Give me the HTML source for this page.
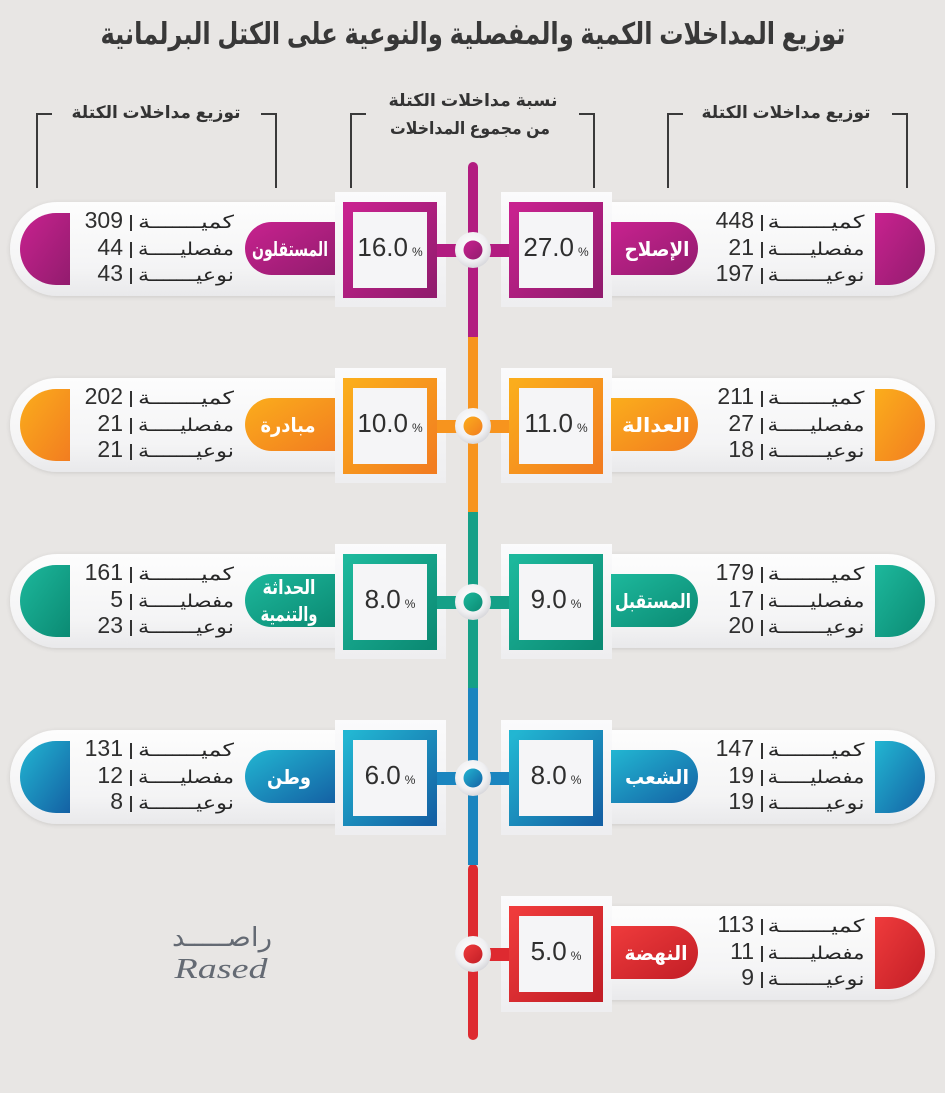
<!DOCTYPE html>
<html><head><meta charset="utf-8"><style>
html,body{margin:0;padding:0;background:#e8e6e4;}
svg{display:block;}
.ar{font-family:"Liberation Sans","DejaVu Sans",sans-serif;}
.num{font-family:"Liberation Sans",sans-serif;font-size:23px;fill:#2f2f2f;}
.lab{font-family:"DejaVu Sans",sans-serif;font-size:18px;fill:#262626;font-weight:500;}
.pct{font-family:"Liberation Sans",sans-serif;font-size:26px;fill:#2f2f2f;}
.pct tspan{font-size:12px;}
.nm{font-family:"DejaVu Sans",sans-serif;font-size:20px;font-weight:bold;fill:#fff;}
.bar{stroke:#333;stroke-width:2;}
</style></head><body>
<svg width="945" height="1093" viewBox="0 0 945 1093" xmlns="http://www.w3.org/2000/svg">
<defs>
<linearGradient id="pill" x1="0" y1="0" x2="0" y2="1"><stop offset="0" stop-color="#fdfdfd"/><stop offset="0.7" stop-color="#f4f4f5"/><stop offset="1" stop-color="#e9e9eb"/></linearGradient>
<linearGradient id="bd" x1="0" y1="0" x2="0" y2="1"><stop offset="0" stop-color="#fbfbfc"/><stop offset="1" stop-color="#eeeef0"/></linearGradient>
<linearGradient id="gm" x1="0" y1="0" x2="1" y2="1"><stop offset="0" stop-color="#c8228f"/><stop offset="1" stop-color="#921c6e"/></linearGradient>
<linearGradient id="go" x1="0" y1="0" x2="1" y2="1"><stop offset="0" stop-color="#fbad1c"/><stop offset="1" stop-color="#f27d20"/></linearGradient>
<linearGradient id="gt" x1="0" y1="0" x2="1" y2="1"><stop offset="0" stop-color="#1db89c"/><stop offset="1" stop-color="#0b8a73"/></linearGradient>
<linearGradient id="gb" x1="0" y1="0" x2="1" y2="1"><stop offset="0" stop-color="#22b6d2"/><stop offset="1" stop-color="#1461a4"/></linearGradient>
<linearGradient id="gr" x1="0" y1="0" x2="1" y2="1"><stop offset="0" stop-color="#ef3b3c"/><stop offset="1" stop-color="#c21e26"/></linearGradient>
<radialGradient id="node" cx="0.45" cy="0.4" r="0.6"><stop offset="0" stop-color="#ffffff"/><stop offset="0.7" stop-color="#f0f0f2"/><stop offset="1" stop-color="#d8d8dc"/></radialGradient>
<filter id="sh" x="-10%" y="-20%" width="120%" height="140%"><feDropShadow dx="0" dy="1" stdDeviation="2" flood-color="#000" flood-opacity="0.12"/></filter>
</defs>

<!-- Title -->
<text class="ar" x="473" y="44" text-anchor="middle" font-size="30" font-weight="bold" fill="#383838" textLength="745" lengthAdjust="spacingAndGlyphs">توزيع المداخلات الكمية والمفصلية والنوعية على الكتل البرلمانية</text>

<!-- Header labels -->
<text class="ar" x="156" y="118" text-anchor="middle" font-size="17" font-weight="bold" fill="#333" textLength="169" lengthAdjust="spacingAndGlyphs">توزيع مداخلات الكتلة</text>
<text class="ar" x="786" y="118" text-anchor="middle" font-size="17" font-weight="bold" fill="#333" textLength="169" lengthAdjust="spacingAndGlyphs">توزيع مداخلات الكتلة</text>
<text class="ar" x="473" y="106" text-anchor="middle" font-size="17" font-weight="bold" fill="#333" textLength="169" lengthAdjust="spacingAndGlyphs">نسبة مداخلات الكتلة</text>
<text class="ar" x="470" y="134" text-anchor="middle" font-size="17" font-weight="bold" fill="#333" textLength="160" lengthAdjust="spacingAndGlyphs">من مجموع المداخلات</text>

<!-- Brackets -->
<g fill="none" stroke="#3a3a3a" stroke-width="2">
<polyline points="52,114 37,114 37,188"/><polyline points="261,114 276,114 276,188"/>
<polyline points="366,114 351,114 351,188"/><polyline points="579,114 594,114 594,188"/>
<polyline points="683,114 668,114 668,188"/><polyline points="892,114 907,114 907,188"/>
</g>

<!-- Spine -->
<rect x="468" y="162" width="10" height="180" rx="5" fill="#b21c80"/>
<rect x="468" y="337" width="10" height="176" fill="#f7941e"/>
<rect x="468" y="512" width="10" height="177" fill="#15a087"/>
<rect x="468" y="864" width="10" height="176" rx="5" fill="#de2a30"/>
<rect x="468" y="688" width="10" height="177" fill="#1a85bf"/>

<!-- ROW 1 (cy=250) -->
<g>
<rect x="560" y="202" width="375" height="94" rx="47" fill="url(#pill)" filter="url(#sh)"/>
<rect x="10" y="202" width="375" height="94" rx="47" fill="url(#pill)" filter="url(#sh)"/>
<rect x="501" y="192" width="111" height="115" fill="url(#bd)"/>
<rect x="335" y="192" width="111" height="115" fill="url(#bd)"/>
<rect x="476" y="244" width="36" height="13" fill="#b21c80"/>
<rect x="434" y="244" width="36" height="13" fill="#b21c80"/>
<rect x="514" y="207" width="84" height="86" fill="#f5f5f7" stroke="url(#gm)" stroke-width="10"/>
<rect x="348" y="207" width="84" height="86" fill="#f5f5f7" stroke="url(#gm)" stroke-width="10"/>
<path d="M611,222 H671.5 A26.5,26.5 0 0 1 671.5,275 H611 Z" fill="url(#gm)"/>
<path d="M335,222 H271.5 A26.5,26.5 0 0 0 271.5,275 H335 Z" fill="url(#gm)"/>
<path d="M875,213 H889 A36,36 0 0 1 889,285 H875 Z" fill="url(#gm)"/>
<path d="M70,213 H56 A36,36 0 0 0 56,285 H70 Z" fill="url(#gm)"/>
<circle cx="473" cy="250" r="18" fill="url(#node)"/><circle cx="473" cy="250" r="9.5" fill="url(#gm)"/>
<text class="nm" x="657" y="256" text-anchor="middle" textLength="65" lengthAdjust="spacingAndGlyphs">الإصلاح</text>
<text class="nm" x="290" y="256" text-anchor="middle" textLength="76" lengthAdjust="spacingAndGlyphs">المستقلون</text>
<text class="pct" x="556" y="256" text-anchor="middle">27.0<tspan dx="4">%</tspan></text>
<text class="pct" x="390" y="256" text-anchor="middle">16.0<tspan dx="4">%</tspan></text>
<text class="lab" x="816" y="228" text-anchor="middle" textLength="97" lengthAdjust="spacingAndGlyphs">كميـــــــة</text>
<text class="lab" x="816" y="255" text-anchor="middle" textLength="97" lengthAdjust="spacingAndGlyphs">مفصليـــــة</text>
<text class="lab" x="816" y="281" text-anchor="middle" textLength="97" lengthAdjust="spacingAndGlyphs">نوعيـــــــة</text>
<text class="lab" x="186" y="228" text-anchor="middle" textLength="96" lengthAdjust="spacingAndGlyphs">كميـــــــة</text>
<text class="lab" x="186" y="255" text-anchor="middle" textLength="96" lengthAdjust="spacingAndGlyphs">مفصليـــــة</text>
<text class="lab" x="186" y="281" text-anchor="middle" textLength="96" lengthAdjust="spacingAndGlyphs">نوعيـــــــة</text>
<line class="bar" x1="762" y1="215" x2="762" y2="231"/><line class="bar" x1="762" y1="242" x2="762" y2="258"/><line class="bar" x1="762" y1="268" x2="762" y2="284"/>
<line class="bar" x1="131" y1="215" x2="131" y2="231"/><line class="bar" x1="131" y1="242" x2="131" y2="258"/><line class="bar" x1="131" y1="268" x2="131" y2="284"/>
<text class="num" x="754" y="228" text-anchor="end">448</text><text class="num" x="754" y="255" text-anchor="end">21</text><text class="num" x="754" y="281" text-anchor="end">197</text>
<text class="num" x="123" y="228" text-anchor="end">309</text><text class="num" x="123" y="255" text-anchor="end">44</text><text class="num" x="123" y="281" text-anchor="end">43</text>
</g>

<!-- ROW 2 (cy=426) -->
<g>
<rect x="560" y="378" width="375" height="94" rx="47" fill="url(#pill)" filter="url(#sh)"/>
<rect x="10" y="378" width="375" height="94" rx="47" fill="url(#pill)" filter="url(#sh)"/>
<rect x="501" y="368" width="111" height="115" fill="url(#bd)"/>
<rect x="335" y="368" width="111" height="115" fill="url(#bd)"/>
<rect x="476" y="420" width="36" height="13" fill="#f7941e"/>
<rect x="434" y="420" width="36" height="13" fill="#f7941e"/>
<rect x="514" y="383" width="84" height="86" fill="#f5f5f7" stroke="url(#go)" stroke-width="10"/>
<rect x="348" y="383" width="84" height="86" fill="#f5f5f7" stroke="url(#go)" stroke-width="10"/>
<path d="M611,398 H671.5 A26.5,26.5 0 0 1 671.5,451 H611 Z" fill="url(#go)"/>
<path d="M335,398 H271.5 A26.5,26.5 0 0 0 271.5,451 H335 Z" fill="url(#go)"/>
<path d="M875,389 H889 A36,36 0 0 1 889,461 H875 Z" fill="url(#go)"/>
<path d="M70,389 H56 A36,36 0 0 0 56,461 H70 Z" fill="url(#go)"/>
<circle cx="473" cy="426" r="18" fill="url(#node)"/><circle cx="473" cy="426" r="9.5" fill="url(#go)"/>
<text class="nm" x="656" y="432" text-anchor="middle" textLength="68" lengthAdjust="spacingAndGlyphs">العدالة</text>
<text class="nm" x="288" y="432" text-anchor="middle" textLength="55" lengthAdjust="spacingAndGlyphs">مبادرة</text>
<text class="pct" x="556" y="432" text-anchor="middle">11.0<tspan dx="4">%</tspan></text>
<text class="pct" x="390" y="432" text-anchor="middle">10.0<tspan dx="4">%</tspan></text>
<text class="lab" x="816" y="404" text-anchor="middle" textLength="97" lengthAdjust="spacingAndGlyphs">كميـــــــة</text>
<text class="lab" x="816" y="431" text-anchor="middle" textLength="97" lengthAdjust="spacingAndGlyphs">مفصليـــــة</text>
<text class="lab" x="816" y="457" text-anchor="middle" textLength="97" lengthAdjust="spacingAndGlyphs">نوعيـــــــة</text>
<text class="lab" x="186" y="404" text-anchor="middle" textLength="96" lengthAdjust="spacingAndGlyphs">كميـــــــة</text>
<text class="lab" x="186" y="431" text-anchor="middle" textLength="96" lengthAdjust="spacingAndGlyphs">مفصليـــــة</text>
<text class="lab" x="186" y="457" text-anchor="middle" textLength="96" lengthAdjust="spacingAndGlyphs">نوعيـــــــة</text>
<line class="bar" x1="762" y1="391" x2="762" y2="407"/><line class="bar" x1="762" y1="418" x2="762" y2="434"/><line class="bar" x1="762" y1="444" x2="762" y2="460"/>
<line class="bar" x1="131" y1="391" x2="131" y2="407"/><line class="bar" x1="131" y1="418" x2="131" y2="434"/><line class="bar" x1="131" y1="444" x2="131" y2="460"/>
<text class="num" x="754" y="404" text-anchor="end">211</text><text class="num" x="754" y="431" text-anchor="end">27</text><text class="num" x="754" y="457" text-anchor="end">18</text>
<text class="num" x="123" y="404" text-anchor="end">202</text><text class="num" x="123" y="431" text-anchor="end">21</text><text class="num" x="123" y="457" text-anchor="end">21</text>
</g>

<!-- ROW 3 (cy=602) -->
<g>
<rect x="560" y="554" width="375" height="94" rx="47" fill="url(#pill)" filter="url(#sh)"/>
<rect x="10" y="554" width="375" height="94" rx="47" fill="url(#pill)" filter="url(#sh)"/>
<rect x="501" y="544" width="111" height="115" fill="url(#bd)"/>
<rect x="335" y="544" width="111" height="115" fill="url(#bd)"/>
<rect x="476" y="596" width="36" height="13" fill="#15a087"/>
<rect x="434" y="596" width="36" height="13" fill="#15a087"/>
<rect x="514" y="559" width="84" height="86" fill="#f5f5f7" stroke="url(#gt)" stroke-width="10"/>
<rect x="348" y="559" width="84" height="86" fill="#f5f5f7" stroke="url(#gt)" stroke-width="10"/>
<path d="M611,574 H671.5 A26.5,26.5 0 0 1 671.5,627 H611 Z" fill="url(#gt)"/>
<path d="M335,574 H271.5 A26.5,26.5 0 0 0 271.5,627 H335 Z" fill="url(#gt)"/>
<path d="M875,565 H889 A36,36 0 0 1 889,637 H875 Z" fill="url(#gt)"/>
<path d="M70,565 H56 A36,36 0 0 0 56,637 H70 Z" fill="url(#gt)"/>
<circle cx="473" cy="602" r="18" fill="url(#node)"/><circle cx="473" cy="602" r="9.5" fill="url(#gt)"/>
<text class="nm" x="653" y="608" text-anchor="middle" textLength="76" lengthAdjust="spacingAndGlyphs">المستقبل</text>
<text class="nm" x="289" y="594" text-anchor="middle" font-size="18" textLength="53" lengthAdjust="spacingAndGlyphs">الحداثة</text>
<text class="nm" x="289" y="621" text-anchor="middle" font-size="18" textLength="57" lengthAdjust="spacingAndGlyphs">والتنمية</text>
<text class="pct" x="556" y="608" text-anchor="middle">9.0<tspan dx="4">%</tspan></text>
<text class="pct" x="390" y="608" text-anchor="middle">8.0<tspan dx="4">%</tspan></text>
<text class="lab" x="816" y="580" text-anchor="middle" textLength="97" lengthAdjust="spacingAndGlyphs">كميـــــــة</text>
<text class="lab" x="816" y="607" text-anchor="middle" textLength="97" lengthAdjust="spacingAndGlyphs">مفصليـــــة</text>
<text class="lab" x="816" y="633" text-anchor="middle" textLength="97" lengthAdjust="spacingAndGlyphs">نوعيـــــــة</text>
<text class="lab" x="186" y="580" text-anchor="middle" textLength="96" lengthAdjust="spacingAndGlyphs">كميـــــــة</text>
<text class="lab" x="186" y="607" text-anchor="middle" textLength="96" lengthAdjust="spacingAndGlyphs">مفصليـــــة</text>
<text class="lab" x="186" y="633" text-anchor="middle" textLength="96" lengthAdjust="spacingAndGlyphs">نوعيـــــــة</text>
<line class="bar" x1="762" y1="567" x2="762" y2="583"/><line class="bar" x1="762" y1="594" x2="762" y2="610"/><line class="bar" x1="762" y1="620" x2="762" y2="636"/>
<line class="bar" x1="131" y1="567" x2="131" y2="583"/><line class="bar" x1="131" y1="594" x2="131" y2="610"/><line class="bar" x1="131" y1="620" x2="131" y2="636"/>
<text class="num" x="754" y="580" text-anchor="end">179</text><text class="num" x="754" y="607" text-anchor="end">17</text><text class="num" x="754" y="633" text-anchor="end">20</text>
<text class="num" x="123" y="580" text-anchor="end">161</text><text class="num" x="123" y="607" text-anchor="end">5</text><text class="num" x="123" y="633" text-anchor="end">23</text>
</g>

<!-- ROW 4 (cy=778) -->
<g>
<rect x="560" y="730" width="375" height="94" rx="47" fill="url(#pill)" filter="url(#sh)"/>
<rect x="10" y="730" width="375" height="94" rx="47" fill="url(#pill)" filter="url(#sh)"/>
<rect x="501" y="720" width="111" height="115" fill="url(#bd)"/>
<rect x="335" y="720" width="111" height="115" fill="url(#bd)"/>
<rect x="476" y="772" width="36" height="13" fill="#1a85bf"/>
<rect x="434" y="772" width="36" height="13" fill="#1a85bf"/>
<rect x="514" y="735" width="84" height="86" fill="#f5f5f7" stroke="url(#gb)" stroke-width="10"/>
<rect x="348" y="735" width="84" height="86" fill="#f5f5f7" stroke="url(#gb)" stroke-width="10"/>
<path d="M611,750 H671.5 A26.5,26.5 0 0 1 671.5,803 H611 Z" fill="url(#gb)"/>
<path d="M335,750 H271.5 A26.5,26.5 0 0 0 271.5,803 H335 Z" fill="url(#gb)"/>
<path d="M875,741 H889 A36,36 0 0 1 889,813 H875 Z" fill="url(#gb)"/>
<path d="M70,741 H56 A36,36 0 0 0 56,813 H70 Z" fill="url(#gb)"/>
<circle cx="473" cy="778" r="18" fill="url(#node)"/><circle cx="473" cy="778" r="9.5" fill="url(#gb)"/>
<text class="nm" x="657" y="784" text-anchor="middle" textLength="64" lengthAdjust="spacingAndGlyphs">الشعب</text>
<text class="nm" x="289" y="784" text-anchor="middle" textLength="44" lengthAdjust="spacingAndGlyphs">وطن</text>
<text class="pct" x="556" y="784" text-anchor="middle">8.0<tspan dx="4">%</tspan></text>
<text class="pct" x="390" y="784" text-anchor="middle">6.0<tspan dx="4">%</tspan></text>
<text class="lab" x="816" y="756" text-anchor="middle" textLength="97" lengthAdjust="spacingAndGlyphs">كميـــــــة</text>
<text class="lab" x="816" y="783" text-anchor="middle" textLength="97" lengthAdjust="spacingAndGlyphs">مفصليـــــة</text>
<text class="lab" x="816" y="809" text-anchor="middle" textLength="97" lengthAdjust="spacingAndGlyphs">نوعيـــــــة</text>
<text class="lab" x="186" y="756" text-anchor="middle" textLength="96" lengthAdjust="spacingAndGlyphs">كميـــــــة</text>
<text class="lab" x="186" y="783" text-anchor="middle" textLength="96" lengthAdjust="spacingAndGlyphs">مفصليـــــة</text>
<text class="lab" x="186" y="809" text-anchor="middle" textLength="96" lengthAdjust="spacingAndGlyphs">نوعيـــــــة</text>
<line class="bar" x1="762" y1="743" x2="762" y2="759"/><line class="bar" x1="762" y1="770" x2="762" y2="786"/><line class="bar" x1="762" y1="796" x2="762" y2="812"/>
<line class="bar" x1="131" y1="743" x2="131" y2="759"/><line class="bar" x1="131" y1="770" x2="131" y2="786"/><line class="bar" x1="131" y1="796" x2="131" y2="812"/>
<text class="num" x="754" y="756" text-anchor="end">147</text><text class="num" x="754" y="783" text-anchor="end">19</text><text class="num" x="754" y="809" text-anchor="end">19</text>
<text class="num" x="123" y="756" text-anchor="end">131</text><text class="num" x="123" y="783" text-anchor="end">12</text><text class="num" x="123" y="809" text-anchor="end">8</text>
</g>

<!-- ROW 5 (cy=954) -->
<g>
<rect x="560" y="906" width="375" height="94" rx="47" fill="url(#pill)" filter="url(#sh)"/>
<rect x="501" y="896" width="111" height="116" fill="url(#bd)"/>
<rect x="476" y="948" width="36" height="13" fill="#de2a30"/>
<rect x="514" y="911" width="84" height="86" fill="#f5f5f7" stroke="url(#gr)" stroke-width="10"/>
<path d="M611,926 H671.5 A26.5,26.5 0 0 1 671.5,979 H611 Z" fill="url(#gr)"/>
<path d="M875,917 H889 A36,36 0 0 1 889,989 H875 Z" fill="url(#gr)"/>
<circle cx="473" cy="954" r="18" fill="url(#node)"/><circle cx="473" cy="954" r="9.5" fill="url(#gr)"/>
<text class="nm" x="656" y="960" text-anchor="middle" textLength="63" lengthAdjust="spacingAndGlyphs">النهضة</text>
<text class="pct" x="556" y="960" text-anchor="middle">5.0<tspan dx="4">%</tspan></text>
<text class="lab" x="816" y="932" text-anchor="middle" textLength="97" lengthAdjust="spacingAndGlyphs">كميـــــــة</text>
<text class="lab" x="816" y="959" text-anchor="middle" textLength="97" lengthAdjust="spacingAndGlyphs">مفصليـــــة</text>
<text class="lab" x="816" y="985" text-anchor="middle" textLength="97" lengthAdjust="spacingAndGlyphs">نوعيـــــــة</text>
<line class="bar" x1="762" y1="919" x2="762" y2="935"/><line class="bar" x1="762" y1="946" x2="762" y2="962"/><line class="bar" x1="762" y1="972" x2="762" y2="988"/>
<text class="num" x="754" y="932" text-anchor="end">113</text><text class="num" x="754" y="959" text-anchor="end">11</text><text class="num" x="754" y="985" text-anchor="end">9</text>
</g>

<!-- Logo -->
<text x="222" y="946" text-anchor="middle" font-family="'DejaVu Sans',sans-serif" font-size="26" fill="#646a73" textLength="100" lengthAdjust="spacingAndGlyphs">راصـــــد</text>
<text x="221" y="978" text-anchor="middle" font-family="'Liberation Serif',serif" font-style="italic" font-size="28" fill="#646a73" textLength="93" lengthAdjust="spacingAndGlyphs">Rased</text>
</svg>
</body></html>
